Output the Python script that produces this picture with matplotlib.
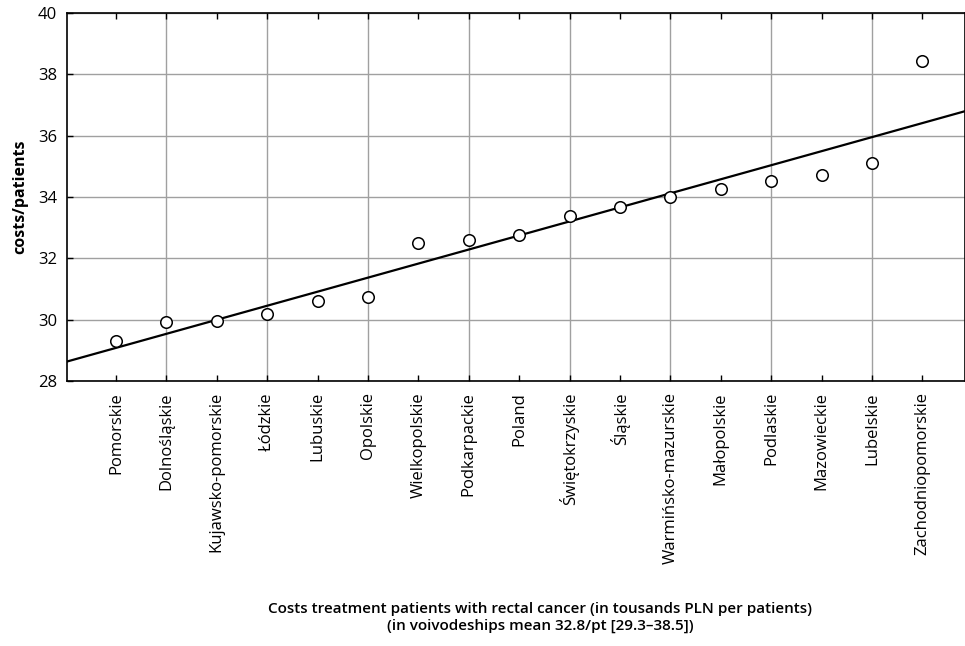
import numpy as np
import matplotlib.pyplot as plt

plt.rcParams['font.family'] = ['Open Sans', 'DejaVu Sans']

regions = ['Pomorskie', 'Dolnośląskie', 'Kujawsko-pomorskie', 'Łódzkie', 'Lubuskie',
           'Opolskie', 'Wielkopolskie', 'Podkarpackie', 'Poland', 'Świętokrzyskie',
           'Śląskie', 'Warmińsko-mazurskie', 'Małopolskie', 'Podlaskie', 'Mazowieckie',
           'Lubelskie', 'Zachodniopomorskie']
costs = [29.3, 29.93, 29.96, 30.2, 30.6, 30.74, 32.5, 32.6, 32.76, 33.38,
         33.67, 34.0, 34.26, 34.52, 34.72, 35.1, 38.43]

x = np.arange(len(regions))
y = np.array(costs)

fig = plt.figure(figsize=(9.65, 6.46), dpi=100)
ax = fig.add_axes([0.0694, 0.4102, 0.9306, 0.5697])

# grid: horizontal at every tick, vertical at every second category
for yy in range(28, 41, 2):
    ax.axhline(yy, color='#a0a0a0', lw=1, zorder=0)
for xx in x[1::2]:
    ax.axvline(xx, color='#a0a0a0', lw=1, zorder=0)

# regression line
k, b = np.polyfit(x, y, 1)
xl = np.array([-1.5, 17.5])
ax.plot(xl, k * xl + b, color='black', lw=1.6, zorder=2)

ax.plot(x, y, 'o', mfc='white', mec='black', mew=1.1, ms=8.3, zorder=3)

ax.set_xlim(-0.972, 16.845)
ax.set_ylim(28, 40)
ax.set_yticks(range(28, 41, 2))
ax.set_xticks(x)
ax.set_xticklabels(regions, rotation=90, fontsize=12)
ax.tick_params(axis='x', direction='in', length=4, top=True, pad=8, width=1)
ax.tick_params(axis='y', direction='in', length=4, labelsize=12, pad=7, width=1)
for s in ax.spines.values():
    s.set_linewidth(1.2)

ax.set_ylabel('costs/patients', fontsize=11.5, fontweight='bold', labelpad=7)

fig.text(0.56, 0.02,
         'Costs treatment patients with rectal cancer (in tousands PLN per patients)\n'
         '(in voivodeships mean 32.8/pt [29.3–38.5])',
         ha='center', va='bottom', fontsize=11, fontweight='semibold', linespacing=1.3)

fig.savefig('out.png', dpi=100)
